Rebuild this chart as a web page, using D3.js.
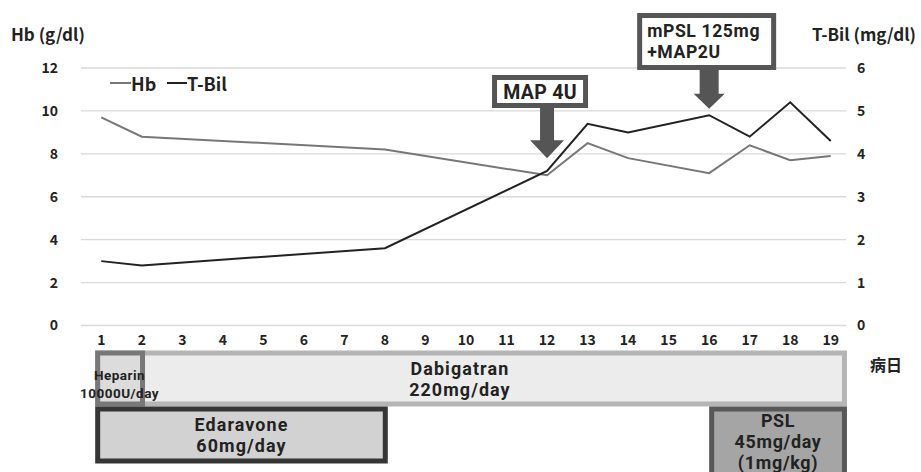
<!DOCTYPE html>
<html><head><meta charset="utf-8">
<script src="https://cdn.jsdelivr.net/npm/d3@7"></script>
<style>body{margin:0;background:#fff}svg{display:block}text{font-family:"Noto Sans CJK JP","Noto Sans",sans-serif;font-weight:bold;fill:#222}text.ml{font-family:Roboto,"Noto Sans",sans-serif}</style>
</head><body>
<script>
const days = [1,2,3,4,5,6,7,8,9,10,11,12,13,14,15,16,17,18,19];
const obsDays = [1,2,8,12,13,14,16,17,18,19];
const hb   = [9.7,8.8,8.2,7.0,8.5,7.8,7.1,8.4,7.7,7.9];
const tbil = [1.5,1.4,1.8,3.6,4.7,4.5,4.9,4.4,5.2,4.3];
const leftTicks = [0,2,4,6,8,10,12];
const rightTicks = [0,1,2,3,4,5,6];
const drugs = [
  {lines:["Dabigatran","220mg/day"], start:0.85, end:19.4, row:0, textDay:9.85},
  {lines:["Heparin","10000U/day"], start:0.85, end:2.08, row:0, textDay:1.45},
  {lines:["Edaravone","60mg/day"], start:0.85, end:8.07, row:1, textDay:4.46},
  {lines:["PSL","45mg/day","(1mg/kg)"], start:16.0, end:19.4, row:1, textDay:17.7}
];
const drugStyle = [
  {fill:"#ececec", stroke:"#b5b5b5", fs:17.9, lh:21, cy:379, ls:1.1},
  {fill:"#dcdcdc", stroke:"#787878", fs:13.5, lh:18, cy:384, ls:0.5},
  {fill:"#d2d2d2", stroke:"#363636", fs:17.9, lh:21, cy:435, ls:1.1},
  {fill:"#a5a5a5", stroke:"#585858", fs:17.9, lh:21, cy:441.5, ls:0.7}
];
const annots = [
  {lines:["MAP 4U"], day:12, tipVal:3.9},
  {lines:["mPSL 125mg","+MAP2U"], day:16, tipVal:5.05}
];

const W=921,H=472;
const svg=d3.select("body").append("svg").attr("width",W).attr("height",H);
const x=d3.scaleBand().domain(days).range([81,851]);
const xl=d3.scaleLinear().domain([1,19]).range([x(1)+x.bandwidth()/2, x(19)+x.bandwidth()/2]);
const yL=d3.scaleLinear().domain([0,12]).range([325.5,68]);
const yR=d3.scaleLinear().domain([0,6]).range([325.5,68]);

function multiText(g, lines, xPos, cy, lh, fs, anchor, ls){
  const n=lines.length;
  lines.forEach((s,k)=>{
    g.append("text").attr("class","ml").attr("text-anchor",anchor).style("font-size",fs+"px")
      .style("letter-spacing",ls+"px")
      .attr("x",xPos).attr("y",cy+(k-(n-1)/2)*lh+fs*0.36).text(s);
  });
}

// gridlines
svg.append("g").selectAll("line").data(leftTicks).join("line")
  .attr("x1",81).attr("x2",846).attr("y1",d=>yL(d)).attr("y2",d=>yL(d))
  .attr("stroke","#d9d9d9").attr("stroke-width",1.3);

// left axis
const gL=svg.append("g").attr("transform","translate(58,0)")
  .call(d3.axisLeft(yL).tickValues(leftTicks).tickSize(0).tickPadding(0).tickFormat(d3.format("d")));
gL.select(".domain").remove();
gL.selectAll("text").style("font-size","14px").attr("font-family",null);
// right axis
const gR=svg.append("g").attr("transform","translate(857,0)")
  .call(d3.axisRight(yR).tickValues(rightTicks).tickSize(0).tickPadding(0).tickFormat(d3.format("d")));
gR.select(".domain").remove();
gR.selectAll("text").style("font-size","14px").attr("font-family",null);
// x axis
const gX=svg.append("g").attr("transform","translate(0,335)")
  .call(d3.axisBottom(x).tickSize(0).tickPadding(0));
gX.select(".domain").remove();
gX.selectAll("text").style("font-size","14px").attr("font-family",null);

svg.append("text").attr("x",11).attr("y",41).style("font-size","17px").text("Hb (g/dl)");
svg.append("text").attr("x",916).attr("y",41).attr("text-anchor","end").style("font-size","17px").text("T-Bil (mg/dl)");
svg.append("text").attr("x",870).attr("y",371).style("font-size","16px").text("病日");

// lines
const hbPts=obsDays.map((d,i)=>[xl(d),yL(hb[i])]);
const tbPts=obsDays.map((d,i)=>[xl(d),yR(tbil[i])]);
svg.append("path").attr("d",d3.line()(hbPts)).attr("fill","none").attr("stroke","#777").attr("stroke-width",2);
svg.append("path").attr("d",d3.line()(tbPts)).attr("fill","none").attr("stroke","#222").attr("stroke-width",2);

// legend
const lg=svg.append("g");
lg.append("line").attr("x1",110).attr("x2",131).attr("y1",83).attr("y2",83).attr("stroke","#777").attr("stroke-width",2);
lg.append("text").attr("x",131).attr("y",91).style("font-size","18px").text("Hb");
lg.append("line").attr("x1",167).attr("x2",187).attr("y1",83).attr("y2",83).attr("stroke","#222").attr("stroke-width",2);
lg.append("text").attr("x",187).attr("y",91).style("font-size","18px").text("T-Bil");

// drug boxes
const rowY=[[353,404],[409,461]];
drugs.forEach((d,i)=>{
  const s=drugStyle[i];
  const x0=xl(d.start)+2.5, x1=xl(d.end)-2.5;
  let y0=rowY[d.row][0], y1=rowY[d.row][1];
  if(i===3) y1=490;
  svg.append("rect").attr("x",x0).attr("y",y0).attr("width",x1-x0).attr("height",y1-y0)
    .attr("fill",s.fill).attr("stroke",s.stroke).attr("stroke-width",5);
});
drugs.forEach((d,i)=>{
  const s=drugStyle[i];
  multiText(svg, d.lines, xl(d.textDay), s.cy, s.lh, s.fs, "middle", s.ls);
});

// annotations
const annotBox=[{dx:-55,w:96,y0:75,y1:108,shaftW:14,headW:34,headH:18,fs:19.5,ls:0.3},
                {dx:-72,w:139,y0:13,y1:70,shaftW:19,headW:31,headH:15,fs:17.6,ls:0.6}];
annots.forEach((a,i)=>{
  const b=annotBox[i], cx=xl(a.day), tip=yR(a.tipVal);
  const hy=tip-b.headH;
  const p=d3.path();
  p.moveTo(cx-b.shaftW/2,b.y1); p.lineTo(cx+b.shaftW/2,b.y1); p.lineTo(cx+b.shaftW/2,hy);
  p.lineTo(cx+b.headW/2,hy); p.lineTo(cx,tip); p.lineTo(cx-b.headW/2,hy); p.lineTo(cx-b.shaftW/2,hy); p.closePath();
  svg.append("path").attr("d",p.toString()).attr("fill","#555");
  svg.append("rect").attr("x",cx+b.dx+2.5).attr("y",b.y0+2.5).attr("width",b.w-5).attr("height",b.y1-b.y0-5)
    .attr("fill","#fff").attr("stroke","#555").attr("stroke-width",5);
  const n=a.lines.length;
  multiText(svg, a.lines, n>1?cx+b.dx+10:cx+b.dx+b.w/2, (b.y0+b.y1)/2, 21, b.fs, n>1?"start":"middle", b.ls);
});
</script>
</body></html>
